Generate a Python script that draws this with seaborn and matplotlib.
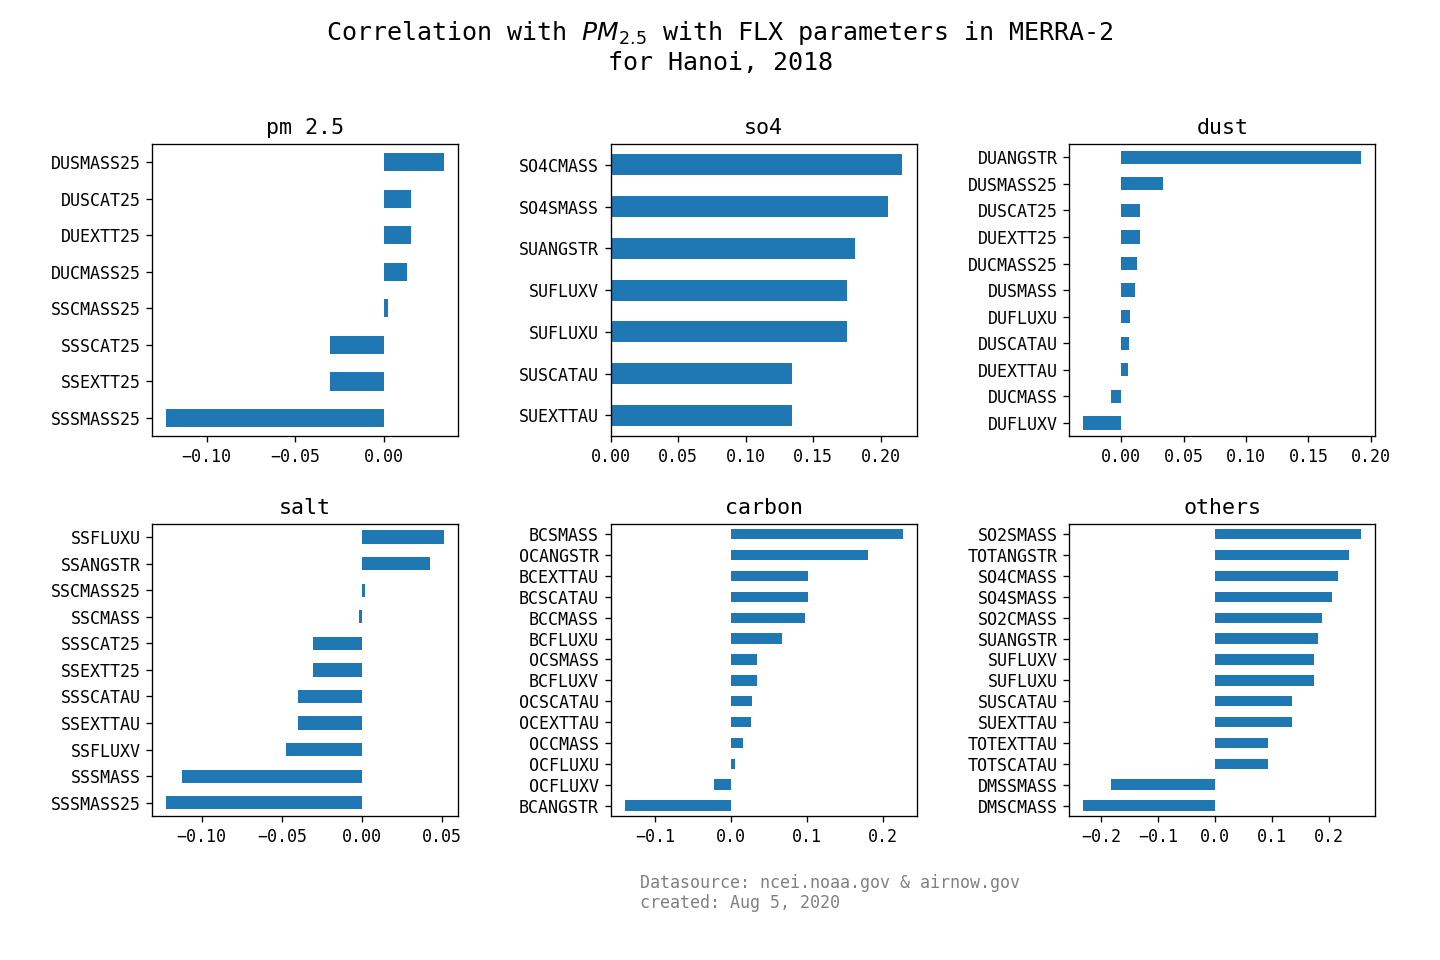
import seaborn as sns
import matplotlib.pyplot as plt

plt.rcParams['font.family'] = ['DejaVu Sans Mono', 'DejaVu Sans']

# correlation values, listed top to bottom as they appear in each panel
pm25_names = ['DUSMASS25', 'DUSCAT25', 'DUEXTT25', 'DUCMASS25', 'SSCMASS25',
              'SSSCAT25', 'SSEXTT25', 'SSSMASS25']
pm25_vals = [0.0338, 0.0152, 0.0152, 0.0130, 0.0023, -0.0305, -0.0305, -0.1230]

so4_names = ['SO4CMASS', 'SO4SMASS', 'SUANGSTR', 'SUFLUXV', 'SUFLUXU',
             'SUSCATAU', 'SUEXTTAU']
so4_vals = [0.2158, 0.2054, 0.1810, 0.1751, 0.1751, 0.1343, 0.1343]

dust_names = ['DUANGSTR', 'DUSMASS25', 'DUSCAT25', 'DUEXTT25', 'DUCMASS25',
              'DUSMASS', 'DUFLUXU', 'DUSCATAU', 'DUEXTTAU', 'DUCMASS', 'DUFLUXV']
dust_vals = [0.1923, 0.0336, 0.0152, 0.0152, 0.0128, 0.0112, 0.0072, 0.0064,
             0.0056, -0.0080, -0.0304]

salt_names = ['SSFLUXU', 'SSANGSTR', 'SSCMASS25', 'SSCMASS', 'SSSCAT25',
              'SSEXTT25', 'SSSCATAU', 'SSEXTTAU', 'SSFLUXV', 'SSSMASS', 'SSSMASS25']
salt_vals = [0.0511, 0.0424, 0.0019, -0.0019, -0.0306, -0.0306, -0.0399,
             -0.0399, -0.0474, -0.1123, -0.1223]

carbon_names = ['BCSMASS', 'OCANGSTR', 'BCEXTTAU', 'BCSCATAU', 'BCCMASS',
                'BCFLUXU', 'OCSMASS', 'BCFLUXV', 'OCSCATAU', 'OCEXTTAU',
                'OCCMASS', 'OCFLUXU', 'OCFLUXV', 'BCANGSTR']
carbon_vals = [0.2258, 0.1799, 0.1011, 0.1011, 0.0972, 0.0670, 0.0341, 0.0341,
               0.0276, 0.0263, 0.0158, 0.0053, -0.0228, -0.1405]

others_names = ['SO2SMASS', 'TOTANGSTR', 'SO4CMASS', 'SO4SMASS', 'SO2CMASS',
                'SUANGSTR', 'SUFLUXV', 'SUFLUXU', 'SUSCATAU', 'SUEXTTAU',
                'TOTEXTTAU', 'TOTSCATAU', 'DMSSMASS', 'DMSCMASS']
others_vals = [0.2561, 0.2351, 0.2158, 0.2053, 0.1877, 0.1807, 0.1737, 0.1737,
               0.1351, 0.1351, 0.0930, 0.0930, -0.1825, -0.2316]

panels = [('pm 2.5', pm25_names, pm25_vals),
          ('so4', so4_names, so4_vals),
          ('dust', dust_names, dust_vals),
          ('salt', salt_names, salt_vals),
          ('carbon', carbon_names, carbon_vals),
          ('others', others_names, others_vals)]

fig, axes = plt.subplots(2, 3, figsize=(12, 8), dpi=120)
fig.subplots_adjust(left=0.1056, right=0.955, top=0.85, bottom=0.15,
                    wspace=0.5, hspace=0.3)

for ax, (title, names, vals) in zip(axes.flat, panels):
    sns.barplot(x=vals, y=names, orient='h', width=0.5, color='#1f77b4',
                saturation=1, linewidth=0, ax=ax)
    ax.set_title(title, fontsize=13)
    ax.set_xlabel('')
    ax.set_ylabel('')

fig.suptitle('Correlation with $PM_{2.5}$ with FLX parameters in MERRA-2\nfor Hanoi, 2018',
             fontsize=15)
fig.text(0.4445, 0.0495, 'Datasource: ncei.noaa.gov & airnow.gov\ncreated: Aug 5, 2020',
         color='grey', fontsize=10, ha='left', va='bottom')

fig.savefig('out.png')
